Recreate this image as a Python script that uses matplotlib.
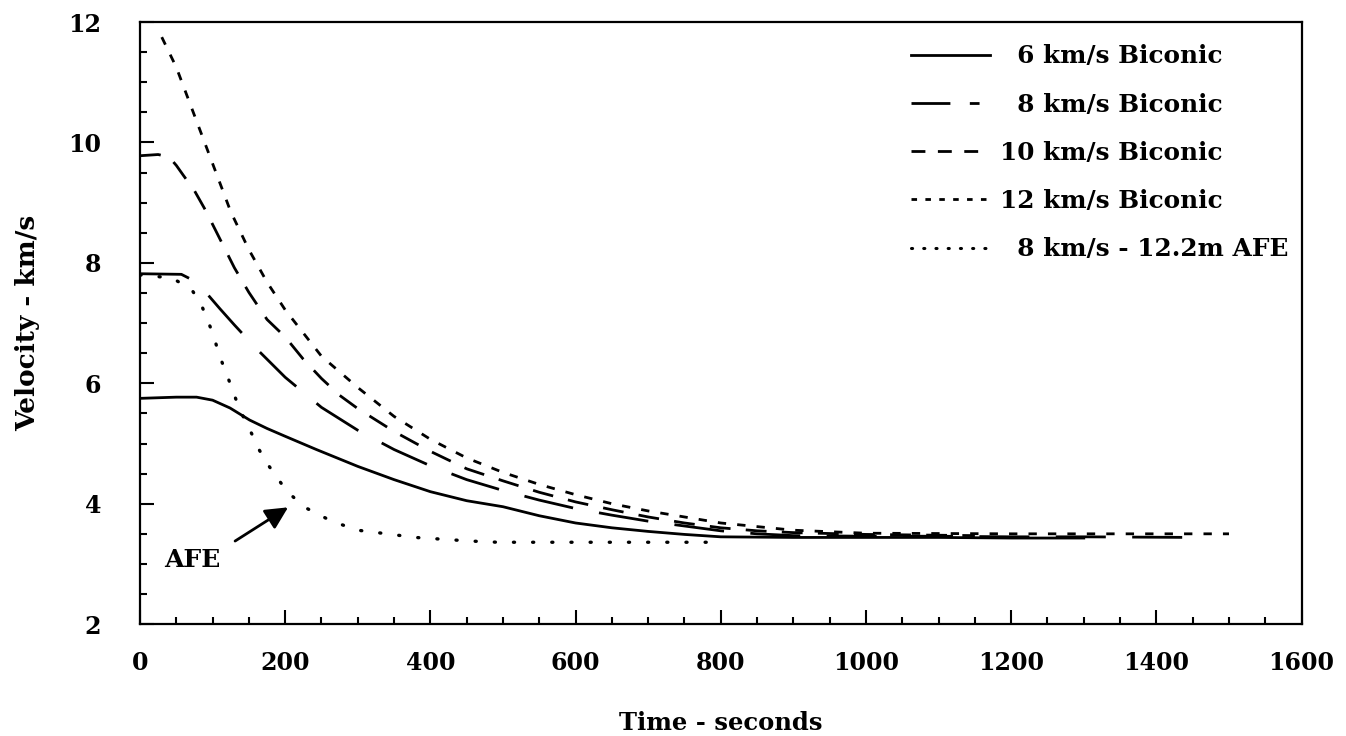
import matplotlib
matplotlib.use("Agg")
import matplotlib.pyplot as plt
from matplotlib.lines import Line2D
from matplotlib.ticker import MultipleLocator

# time in seconds, velocity in km/s
t6 = [0, 50, 78, 100, 124, 151, 175, 200, 243, 300, 350, 400, 450, 500, 550,
      600, 650, 700, 750, 800, 900, 1000, 1100, 1200, 1300]
v6 = [5.75, 5.77, 5.77, 5.72, 5.59, 5.39, 5.25, 5.12, 4.90, 4.62, 4.40, 4.20,
      4.05, 3.95, 3.80, 3.68, 3.60, 3.54, 3.49, 3.45, 3.44, 3.44, 3.44, 3.43, 3.43]

t8 = [0, 57, 75, 90, 110, 130, 160, 200, 250, 300, 350, 400, 450, 500, 550,
      600, 650, 700, 750, 800, 850, 900, 1000, 1100, 1200, 1300, 1450]
v8 = [7.82, 7.81, 7.70, 7.52, 7.24, 6.97, 6.58, 6.10, 5.60, 5.22, 4.90, 4.63,
      4.40, 4.22, 4.06, 3.92, 3.81, 3.71, 3.63, 3.55, 3.50, 3.47, 3.46, 3.46,
      3.45, 3.45, 3.44]

t10 = [0, 25, 40, 50, 60, 75, 90, 110, 130, 150, 175, 200, 225, 250, 275, 300,
       350, 400, 450, 500, 550, 600, 650, 700, 750, 800, 850, 900, 1000, 1150]
v10 = [9.78, 9.80, 9.76, 9.62, 9.45, 9.20, 8.88, 8.40, 7.92, 7.51, 7.06, 6.77,
       6.40, 6.08, 5.80, 5.58, 5.20, 4.87, 4.58, 4.38, 4.19, 4.03, 3.90, 3.78,
       3.68, 3.60, 3.55, 3.52, 3.49, 3.47]

t12 = [30, 50, 75, 100, 125, 150, 175, 200, 250, 300, 350, 400, 450, 500, 550,
       600, 650, 700, 750, 800, 900, 1000, 1200, 1500]
v12 = [11.75, 11.25, 10.45, 9.65, 8.85, 8.22, 7.68, 7.22, 6.45, 5.93, 5.45,
       5.07, 4.76, 4.52, 4.32, 4.15, 4.00, 3.88, 3.78, 3.68, 3.56, 3.51, 3.50, 3.50]

t_afe = [0, 44, 71, 84, 92, 100, 106, 113, 121, 128, 135, 144, 154, 163, 175,
         188, 202, 227, 264, 300, 340, 379, 417, 455, 493, 600, 700, 800]
v_afe = [7.80, 7.75, 7.56, 7.32, 7.08, 6.84, 6.60, 6.35, 6.10, 5.87, 5.64, 5.40,
         5.16, 4.92, 4.67, 4.45, 4.21, 3.94, 3.71, 3.56, 3.50, 3.44, 3.41, 3.38,
         3.36, 3.36, 3.36, 3.36]

labels = ["\u20076 km/s Biconic", "\u20078 km/s Biconic",
          "10 km/s Biconic", "12 km/s Biconic", "\u20078 km/s - 12.2m AFE"]

plt.rcParams['font.family'] = ['DejaVu Serif']
plt.rcParams['font.weight'] = 'bold'
plt.rcParams['axes.labelweight'] = 'bold'
plt.rcParams['lines.scale_dashes'] = False

fig = plt.figure(figsize=(13.46, 7.36), dpi=100)
ax = fig.add_axes([0.104, 0.152, 0.863, 0.818])

lw = 2.0
ax.plot(t6, v6, color='black', lw=lw, linestyle='-')
ax.plot(t8, v8, color='black', lw=lw, linestyle=(0, (36, 19)))
ax.plot(t10, v10, color='black', lw=lw, linestyle=(0, (15, 11)))
ax.plot(t12, v12, color='black', lw=lw, linestyle=(0, (6, 8)))
ax.plot(t_afe, v_afe, color='black', lw=2.4, linestyle=(0, (0.8, 13)),
        dash_capstyle='round')

ax.text(72, 3.06, "AFE", ha='center', va='center', fontsize=18)
ax.annotate("", xy=(204, 3.94), xytext=(131, 3.38),
            arrowprops=dict(arrowstyle='-|>', color='black', lw=2,
                            mutation_scale=34, shrinkA=0, shrinkB=0))

# proxy handles so the legend shows the marks as in the original key
handles = [
    Line2D([], [], color='black', lw=lw, linestyle='-'),
    Line2D([], [], color='black', lw=lw, linestyle=(0, (28, 14, 7, 20))),
    Line2D([], [], color='black', lw=lw, linestyle=(0, (10, 9))),
    Line2D([], [], color='black', lw=lw, linestyle=(0, (4, 6))),
    Line2D([], [], color='black', lw=2.2, linestyle=(0, (0.8, 8)),
           dash_capstyle='round'),
]
ax.legend(handles, labels, loc='upper left', bbox_to_anchor=(0.664, 0.963),
          frameon=False, fontsize=17.8, handlelength=3.2, handletextpad=0.4,
          labelspacing=0.98, borderpad=0, borderaxespad=0)

ax.set_xlim(0, 1600)
ax.set_ylim(2, 12)
ax.xaxis.set_major_locator(MultipleLocator(200))
ax.xaxis.set_minor_locator(MultipleLocator(50))
ax.yaxis.set_major_locator(MultipleLocator(2))
ax.yaxis.set_minor_locator(MultipleLocator(0.5))
ax.tick_params(which='both', direction='in', top=False, right=False, width=1.5)
ax.tick_params(which='major', length=10, labelsize=17)
ax.tick_params(axis='x', which='major', pad=19)
ax.tick_params(axis='y', which='major', pad=28)
ax.tick_params(which='minor', length=5)
for sp in ax.spines.values():
    sp.set_linewidth(1.6)

ax.set_xlabel("Time - seconds", fontsize=17.5, labelpad=26)
ax.set_ylabel("Velocity - km/s", fontsize=19, labelpad=20)

fig.savefig("out.png", dpi=100, facecolor='white')
